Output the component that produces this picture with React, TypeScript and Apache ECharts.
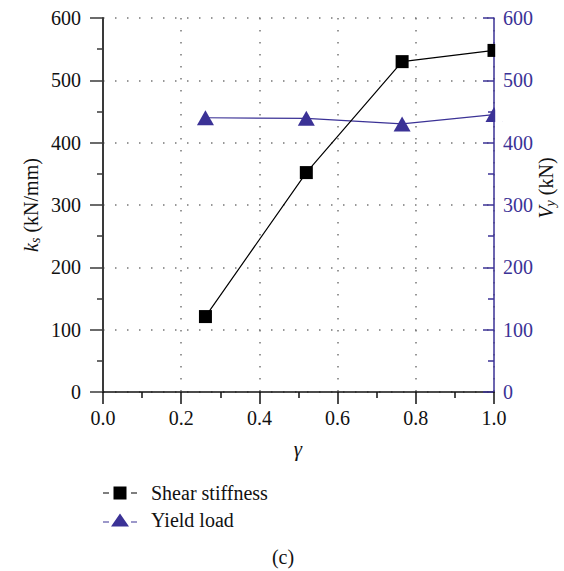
import React, { useEffect, useRef } from "react";
import * as echarts from "echarts";

const gammaValues = [0.262, 0.52, 0.765, 1.0];
const shearStiffness = [121, 352, 530, 548];
const yieldLoad = [440, 439, 430, 445];
const seriesNames = ["Shear stiffness", "Yield load"];

const FONT = "'Liberation Serif', 'DejaVu Serif', serif";
const BLUE = "#3B3296";
const FS = 20;

const squareIcon =
  "path://M0,6.4H6V7.6H0Z M10.5,0.5H23.5V13.5H10.5Z M28,6.4H34V7.6H28Z";
const triangleIcon =
  "path://M0,8.4H6V9.6H0Z M8,13.5L17,0.5L26,13.5Z M28,8.4H34V9.6H28Z";

export default function App() {
  const ref = useRef<HTMLDivElement>(null);
  useEffect(() => {
    if (!ref.current) return;
    const chart = echarts.init(ref.current, undefined, { renderer: "svg" });
    const option: any = {
      animation: false,
      backgroundColor: "#ffffff",
      grid: { left: 103, right: 70, top: 18, bottom: 179, containLabel: false },
      xAxis: {
        type: "value",
        min: 0,
        max: 1,
        interval: 0.2,
        axisLine: { show: true, lineStyle: { color: "#111", width: 1.5 } },
        axisTick: { show: true, length: 12, lineStyle: { color: "#111", width: 1.5 } },
        minorTick: { show: true, splitNumber: 2, length: 6, lineStyle: { color: "#111", width: 1.5 } },
        axisLabel: {
          margin: 16,
          fontFamily: FONT,
          fontSize: FS,
          color: "#111",
          formatter: (v: number) => v.toFixed(1),
        },
        splitLine: { show: true, lineStyle: { color: "#777", width: 1.5, type: [1.5, 10.5] } },
      },
      yAxis: [
        {
          type: "value",
          position: "left",
          min: 0,
          max: 600,
          interval: 100,
          axisLine: { show: true, lineStyle: { color: "#3a3a3a", width: 2 } },
          axisTick: { show: true, length: 13, lineStyle: { color: "#3a3a3a", width: 1.5 } },
          minorTick: { show: true, splitNumber: 2, length: 6, lineStyle: { color: "#3a3a3a", width: 1.5 } },
          axisLabel: { margin: 22, fontFamily: FONT, fontSize: FS, color: "#111" },
          splitLine: { show: true, lineStyle: { color: "#777", width: 1.5, type: [1.5, 10.5] } },
        },
        {
          type: "value",
          position: "right",
          min: 0,
          max: 600,
          interval: 100,
          axisLine: { show: true, lineStyle: { color: BLUE, width: 1.5 } },
          axisTick: { show: true, inside: true, length: 11, lineStyle: { color: BLUE, width: 1.5 } },
          minorTick: { show: true, splitNumber: 2, length: 6, lineStyle: { color: BLUE, width: 1.5 } },
          axisLabel: { margin: 9, fontFamily: FONT, fontSize: FS, color: BLUE },
          splitLine: { show: false },
        },
      ],
      legend: {
        orient: "vertical",
        left: 103,
        top: 483,
        padding: 0,
        itemWidth: 34,
        itemHeight: 14,
        itemGap: 7,
        data: [
          { name: seriesNames[0], icon: squareIcon },
          { name: seriesNames[1], icon: triangleIcon },
        ],
        textStyle: { fontFamily: FONT, fontSize: FS, color: "#111", padding: [0, 0, 0, 9] },
      },
      series: [
        {
          name: seriesNames[0],
          type: "line",
          yAxisIndex: 0,
          data: gammaValues.map((g, i) => [g, shearStiffness[i]]),
          symbol: "rect",
          symbolSize: 13,
          itemStyle: { color: "#000" },
          lineStyle: { color: "#000", width: 1.2 },
          z: 3,
        },
        {
          name: seriesNames[1],
          type: "line",
          yAxisIndex: 1,
          data: gammaValues.map((g, i) => [g, yieldLoad[i]]),
          symbol: "triangle",
          symbolSize: [17, 15],
          itemStyle: { color: BLUE },
          lineStyle: { color: BLUE, width: 1.2 },
          z: 2,
        },
      ],
      graphic: [
        {
          type: "rect",
          z: 100,
          shape: { x: 495.2, y: 0, width: 7.5, height: 391 },
          style: { fill: "#ffffff" },
        },
        {
          type: "text",
          x: 298,
          y: 449,
          style: {
            text: "γ",
            fontFamily: FONT,
            fontSize: 21,
            fontStyle: "italic",
            fill: "#111",
            align: "center",
            verticalAlign: "middle",
          },
        },
        {
          type: "text",
          x: 31,
          y: 205,
          rotation: Math.PI / 2,
          style: {
            text: "{i|k}{sub|s} (kN/mm)",
            fontFamily: FONT,
            fontSize: FS,
            fill: "#111",
            align: "center",
            verticalAlign: "middle",
            rich: {
              i: { fontFamily: FONT, fontSize: FS, fontStyle: "italic", fill: "#111" },
              sub: { fontFamily: FONT, fontSize: 14, fontStyle: "italic", fill: "#111", padding: [9, 0, 0, 0] },
            },
          },
        },
        {
          type: "text",
          x: 546,
          y: 188,
          rotation: Math.PI / 2,
          style: {
            text: "{i|V}{sub|y} (kN)",
            fontFamily: FONT,
            fontSize: FS,
            fill: "#111",
            align: "center",
            verticalAlign: "middle",
            rich: {
              i: { fontFamily: FONT, fontSize: FS, fontStyle: "italic", fill: "#111" },
              sub: { fontFamily: FONT, fontSize: 14, fontStyle: "italic", fill: "#111", padding: [9, 0, 0, 0] },
            },
          },
        },
        {
          type: "text",
          x: 283,
          y: 557,
          style: {
            text: "(c)",
            fontFamily: FONT,
            fontSize: FS,
            fill: "#111",
            align: "center",
            verticalAlign: "middle",
          },
        },
      ],
    };
    chart.setOption(option);
    return () => chart.dispose();
  }, []);
  return (
    <div
      ref={ref}
      style={{ position: "fixed", left: 0, top: 0, width: 564, height: 571, background: "#fff" }}
    />
  );
}
